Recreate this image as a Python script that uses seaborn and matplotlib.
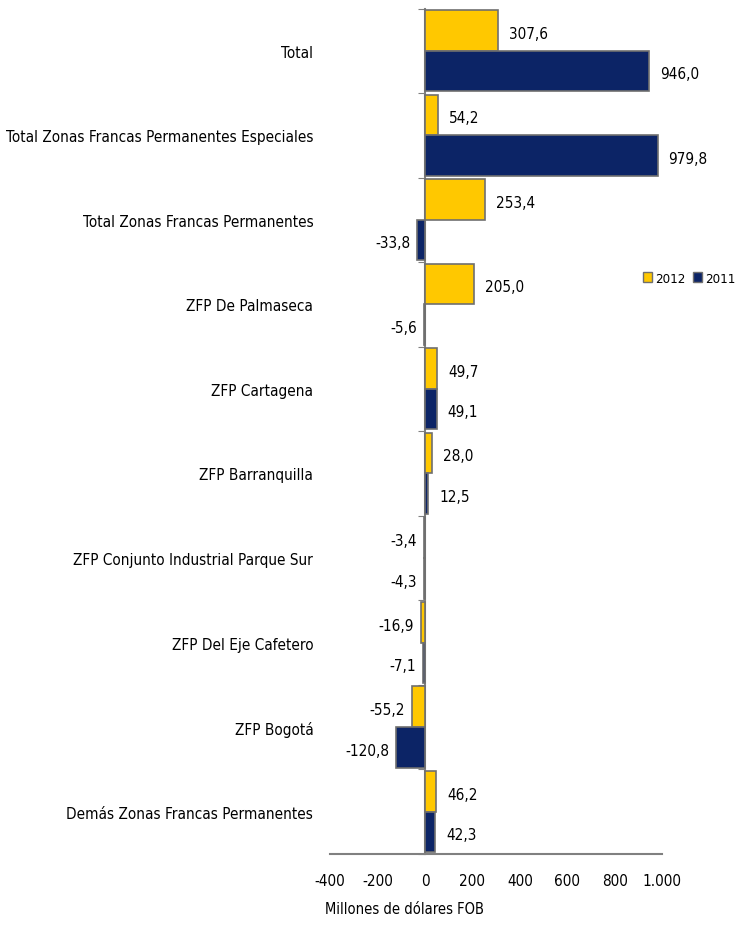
import pandas as pd
import seaborn as sns
import matplotlib.pyplot as plt
from matplotlib.patches import Patch

categories = [
    "Total",
    "Total Zonas Francas Permanentes Especiales",
    "Total Zonas Francas Permanentes",
    "ZFP De Palmaseca",
    "ZFP Cartagena",
    "ZFP Barranquilla",
    "ZFP Conjunto Industrial Parque Sur",
    "ZFP Del Eje Cafetero",
    "ZFP Bogotá",
    "Demás Zonas Francas Permanentes",
]
vals_2012 = [307.6, 54.2, 253.4, 205.0, 49.7, 28.0, -3.4, -16.9, -55.2, 46.2]
vals_2011 = [946.0, 979.8, -33.8, -5.6, 49.1, 12.5, -4.3, -7.1, -120.8, 42.3]
years = ["2012", "2011"]
colors = {"2012": "#FFC800", "2011": "#0C2466"}
x_ticks = [-400, -200, 0, 200, 400, 600, 800, 1000]
x_ticklabels = ["-400", "-200", "0", "200", "400", "600", "800", "1.000"]

df = pd.DataFrame({
    "zona": categories * 2,
    "valor": vals_2012 + vals_2011,
    "anio": ["2012"] * len(categories) + ["2011"] * len(categories),
})

sns.set_style("white")
plt.rcParams['font.family'] = ['DejaVu Sans']
plt.rcParams['font.stretch'] = 'condensed'
plt.rcParams['text.color'] = 'black'
plt.rcParams['xtick.labelcolor'] = 'black'
plt.rcParams['ytick.labelcolor'] = 'black'

fig = plt.figure(figsize=(7.45, 9.53), dpi=100)
ax = fig.add_axes([0.443, 0.103, 0.446, 0.887])

sns.barplot(data=df, y="zona", x="valor", hue="anio", hue_order=years,
            palette=colors, saturation=1, orient="h", width=0.96, ax=ax,
            edgecolor="#6f6f6f", linewidth=1.2, legend=False)

# etiquetas de valores
for cont in ax.containers:
    for bar in cont:
        v = bar.get_width()
        y = bar.get_y() + bar.get_height() / 2
        txt = f"{v:.1f}".replace(".", ",")
        if v >= 0:
            ax.annotate(txt, (v, y), xytext=(8, -2), textcoords="offset points",
                        ha="left", va="center", fontsize=11)
        else:
            ax.annotate(txt, (v, y), xytext=(-5, -2), textcoords="offset points",
                        ha="right", va="center", fontsize=11)

ax.set_xlim(-400, 1000)
ax.set_ylim(len(categories) - 0.5, -0.5)
ax.set_xticks(x_ticks)
ax.set_xticklabels(x_ticklabels, fontsize=11)
ax.tick_params(axis="x", direction="in", length=6, color="#808080", pad=14)
ax.tick_params(axis="y", length=0, pad=12, labelsize=11)
ax.set_xlabel("")
ax.set_ylabel("")

for s in ["top", "right", "left"]:
    ax.spines[s].set_visible(False)
ax.spines["bottom"].set_color("#808080")
ax.spines["bottom"].set_linewidth(1.5)

# linea del cero con separadores de categoria
sec = ax.secondary_yaxis(400 / 1400)
sec.set_yticks([i + 0.5 for i in range(-1, len(categories))])
sec.set_yticklabels([])
sec.tick_params(length=5, color="#808080", direction="out")
sec.spines["left"].set_color("#808080")
sec.spines["left"].set_linewidth(1.5)

handles = [Patch(facecolor=colors[y], edgecolor="#6f6f6f") for y in years]
fig.legend(handles, years, loc="center", bbox_to_anchor=(0.925, 0.707), ncol=2,
           frameon=False, fontsize=9.5, handlelength=0.7, handleheight=0.7,
           handletextpad=0.2, columnspacing=0.6)

fig.text(404 / 745, 1 - 910 / 953, "Millones de dólares FOB", ha="center",
         va="center", fontsize=10.5)

plt.savefig("out.png", dpi=100)
